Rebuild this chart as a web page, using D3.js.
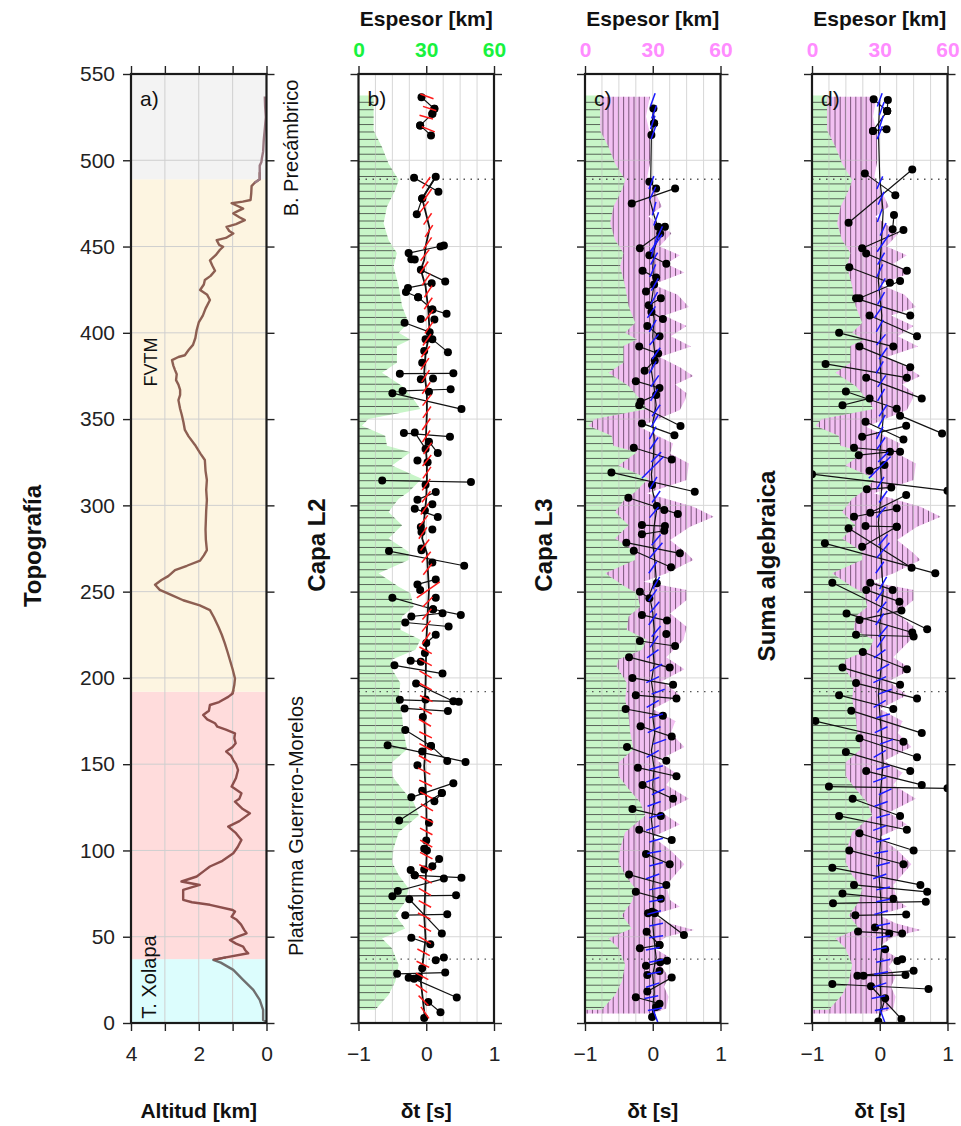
<!DOCTYPE html>
<html>
<head>
<meta charset="utf-8">
<script src="https://d3js.org/d3.v7.min.js"></script>
<style>
  body { margin: 0; background: #fff; }
  svg { font-family: "Liberation Sans", Arial, sans-serif; }
</style>
</head>
<body>
<svg id="chart" width="961" height="1126"></svg>
<script>
// ---------------- data ----------------
var regionNames = ["T. Xolapa", "Plataforma Guerrero-Morelos", "FVTM", "B. Precámbrico"];
var regionBounds = [0, 37, 192, 489, 550];

// topography: [distance, altitude km]
var topo = [[0.8,0.0],[1.8,0.1],[7.6,0.1],[13.4,0.2],[19.2,0.39],[25,0.69],[30.8,0.98],[35,1.35],[36.6,1.57],
  [38,1.2],[40.4,0.54],[42,0.62],[44.3,0.69],[46,0.9],[48.1,1.08],[50,0.85],[52,0.59],[54,0.66],[57,0.75],
  [59.8,0.88],[61.6,1.03],[64.6,0.93],[65.5,1.0],[68.5,1.67],[70,2.2],[71.4,2.46],[74,2.46],[77.2,2.46],
  [80,1.97],[82,2.51],[84.9,2.06],[88,1.85],[90.7,1.67],[94,1.3],[98.4,0.98],[102,0.85],[106.1,0.74],
  [110,0.9],[113.8,1.13],[117,0.8],[121.5,0.49],[124,0.7],[128.3,0.93],[130,0.8],[133.1,0.74],[137,1.03],
  [142,0.9],[146.6,0.84],[150,0.9],[152.4,0.98],[155,1.05],[157.3,1.19],[160,1.0],[162.1,0.91],[165,0.95],
  [167.9,0.93],[170,1.2],[171.7,1.45],[173.7,1.52],[176,1.75],[178.5,1.87],[181,1.7],[184.3,1.67],[186,1.4],
  [189,1.13],[191,1.0],[193,0.98],[196,0.95],[199.7,0.93],[205,1.0],[210.4,1.08],[215,1.15],[220,1.23],
  [225,1.32],[229.7,1.42],[235,1.55],[239.3,1.67],[242,1.97],[245,2.46],[248,2.8],[251,3.15],[254,3.29],
  [256.7,3.1],[259,2.9],[262.5,2.7],[265,2.35],[268,1.96],[271,1.85],[274,1.76],[280,1.79],[286,1.8],
  [291.5,1.79],[297,1.78],[303,1.76],[309,1.78],[314.7,1.76],[320,1.8],[326.3,1.82],[330,1.95],[335,2.11],
  [340,2.3],[343.7,2.41],[348,2.45],[352.4,2.5],[356,2.55],[361,2.6],[364,2.55],[366.9,2.55],[370,2.6],
  [372.6,2.67],[376,2.65],[378.4,2.7],[381,2.75],[384.2,2.79],[386,2.6],[387,2.41],[390,2.3],[393,2.17],
  [397,2.1],[401.6,2.06],[406,2.0],[410,1.88],[414,1.8],[419,1.67],[422,1.75],[424.8,1.96],[428,1.85],
  [430.6,1.82],[433,1.65],[436,1.52],[439,1.6],[442,1.67],[445,1.5],[448,1.38],[449.9,1.28],[451,1.4],
  [453.7,1.47],[455,1.2],[457.6,0.98],[459,1.1],[461.4,1.18],[463,0.9],[465.3,0.64],[467,0.8],[469.2,0.98],
  [470.5,0.85],[472,0.69],[473.5,0.85],[475.1,1.03],[476,0.7],[477,0.47],[481,0.45],[485,0.44],[487,0.35],
  [489,0.2],[493,0.2],[496.9,0.2],[499,0.15],[500.7,0.14],[505,0.1],[512,0.08],[518,0.05],[525,0.02],
  [531,0.04],[537,0.05]];

// thickness of layer L2 [distance, km]
var espesorL2 = [[537.5,6.7],[526.9,6.7],[517.3,6.7],[507.7,10.4],[498.1,13.3],[488.5,17.8],[482.7,16.3],
  [473.1,12.6],[463.5,11.1],[453.8,13.3],[446.2,17.0],[438.5,15.5],[426.9,17.8],[415.4,19.3],[405.8,22.2],
  [400,17.8],[396.2,23.0],[392.3,17.0],[382.7,17.0],[376.9,10.4],[369.2,19.3],[361.5,24.4],[355.8,27.4],
  [350,4.4],[346.2,1.5],[340.4,11.8],[334.6,12.6],[330.8,23.0],[323.1,14.8],[315.4,28.0],[307.7,22.2],
  [303.8,17.8],[296.2,13.3],[288.5,19.3],[280.8,13.3],[273.1,22.2],[268.3,22.2],[260.6,8.9],[252.9,17.8],
  [249,23.0],[241.3,24.4],[235.6,19.3],[227.9,18.5],[222.1,27.4],[216.3,25.2],[210.6,14.8],[206.7,14.0],
  [197.1,18.5],[187.5,17.8],[177.9,19.3],[168.3,20.0],[158.7,21.5],[151,14.8],[143.3,14.8],[135.6,19.3],
  [127.9,24.4],[120.2,26.7],[110.6,17.8],[101,15.5],[93.3,14.8],[85.6,17.8],[77.9,22.2],[70.2,20.7],
  [62.5,16.3],[54.8,20.7],[49,10.4],[43.3,14.8],[33.7,17.8],[24,16.3],[16.3,13.3],[7.7,7.4]];

// thickness of layers L2 + L3 [distance, km]
var espesorL23 = [[536.8,28.7],[525.3,27.0],[515.6,28.7],[500.2,29.0],[490.5,27.6],[484.7,30.0],[473.2,34.0],
  [467.4,28.0],[457.7,38.3],[450,33.0],[445,42],[440,36],[435,44],[428,30],[422,41],[415,46],[410,35],
  [404,45],[398,38],[392,47],[386,33],[380,42],[375,48],[370,40],[365,45],[361,44.3],[355.2,42],[345.6,24],
  [335.9,39],[330.1,37.7],[324.3,46],[314.7,45],[307,27.3],[299.2,48],[293.4,57],[287.6,46.5],[279.9,37.7],
  [272.2,45],[268.3,48],[260.6,36.2],[255.8,26],[251,45],[245.2,45],[237.4,37.7],[229.7,45],[222,43.6],
  [212,36],[205,44],[198,34],[190,42],[182,30],[175,40],[168,38],[160,44],[152,32],[145,40],[138,36],
  [130,46],[122,34],[115,42],[108,30],[100,38],[92,44],[80,36],[71.3,37.6],[67.4,42],[62.6,29.6],[57.8,37],
  [53.9,48.3],[50,36],[44.2,29.6],[38.4,37],[32.6,34],[26.8,37],[21,35],[15.2,37],[8.4,36],[5.5,30]];

// panel b (capa L2): mean curve [distance, dt]
var lineL2 = [[490.4,0.14],[477.9,-0.06],[460.6,0.05],[450,-0.01],[442.3,-0.03],[436.5,-0.08],[426.9,-0.01],
  [413.5,0.03],[400,0.05],[388.5,-0.01],[376.9,-0.03],[365.4,0.01],[353.8,0.01],[334.6,-0.01],[325,0.01],
  [315.4,0.01],[303.8,0.0],[292.3,-0.03],[280.8,-0.06],[272.1,0.01],[251,0.04],[220.2,0.0],[197.1,-0.01],
  [177.9,-0.03],[158.7,-0.01],[149,-0.03],[129.8,0.0],[101,0.01],[81.7,-0.01],[62.5,-0.03],[49,-0.01],
  [31.7,-0.06],[24,-0.08],[3,-0.02]];
// pairs of measurements [dist1, dt1, dist2, dt2]
var pairsL2 = [[536.5,-0.07,529.8,0.12],[529.8,0.12,526.9,0.09],[526.9,0.09,520.2,-0.09],[520.2,-0.09,514.4,0.07],
  [489.8,-0.18,481.7,0.18],[490.4,0.14,477.9,-0.06],[477.9,-0.06,468.7,-0.14],[450.6,0.26,446.2,-0.26],
  [442.7,-0.22,442.5,-0.17],[436.5,-0.08,429.8,0.28],[428.8,0.08,426,-0.27],[423.7,-0.30,420.6,-0.12],
  [420.6,-0.12,413.5,0.09],[413.5,0.09,411,0.30],[405.8,-0.32,400.4,0.05],[396.2,0.09,388.8,0.32],
  [376.3,-0.39,376.5,0.40],[366.3,-0.35,367.3,0.36],[365,-0.50,355.8,0.52],[341.9,-0.33,339.8,0.35],
  [342.3,-0.17,332.7,-0.01],[330.3,0.17,336.9,0.04],[314.4,-0.65,313.5,0.66],[307.7,0.14,303.3,-0.13],
  [298.1,-0.17,293.3,0.17],[273.5,-0.55,265,0.56],[257.1,0.14,254.2,-0.13],[246.5,-0.50,239.8,0.10],
  [239.8,0.10,236.5,0.51],[235.6,-0.22,237.5,0.24],[232.1,-0.31,229.8,0.33],[225,0.14,220.2,0.0],
  [210,-0.23,209.4,-0.08],[207.3,-0.47,202.5,0.24],[196.7,-0.15,186.5,0.40],[187.3,-0.39,186.2,0.48],
  [182.3,-0.32,180.8,0.32],[169.8,-0.31,160.6,0.07],[160.6,0.07,151.9,0.31],[161,-0.57,151.3,0.58],
  [139,0.40,130.8,-0.22],[133.3,0.23,128.5,0.12],[117.3,-0.40,133.3,0.23],[95,0.19,90.8,0.09],
  [88.6,-0.23,85.6,-0.17],[85.6,-0.17,84.2,0.52],[76.5,-0.42,83.7,0.26],[73.5,-0.50,74,0.44],
  [71.7,-0.25,51.9,0.23],[62.5,-0.31,63,0.31],[49.4,-0.22,45.6,0.06],[36.3,0.14,38,0.26],
  [28.5,-0.43,29.2,0.28],[25.6,-0.18,14.8,0.45],[12.1,0.03,6.2,0.21],[26.2,-0.26,26.8,-0.11]];
var dotsL2 = [[382.7,-0.06],[373.1,-0.08],[373.5,0.10],[365.8,0.04],[326,-0.13],[325,0.02],[312,-0.01],
  [300.6,0.09],[297,-0.02],[287.5,-0.08],[286,0.09],[284.6,-0.07],[275,-0.07],[396.2,-0.01],[389.4,-0.03],
  [408,-0.08],[407.7,0.12],[450,0.21],[274,-0.07],[266.9,0.09],[251,-0.09],[246.5,0.14],[214.4,-0.02],
  [187.5,-0.01],[177.3,-0.05],[157.3,-0.06],[149.4,-0.13],[134.6,-0.06],[116,0.04],[105.8,0.0],[101,-0.03],
  [100,0.01],[89,-0.03],[31.7,-0.06],[2.9,-0.03]];
// fast-axis sticks [distance, dt, azimuth deg, relative delay]
var sticksL2 = [[537,0.01,110,1],[530,0.05,108,1],[525,0.0,105,1],[518,0.03,112,1],
  [487,0.0,35,1],[480,0.02,35,1],[473,-0.03,38,1],[466,0.02,35,1],[459,0.04,33,1],[452,0.02,35,1],
  [445,-0.02,38,1],[438,-0.03,35,1],[431,0.0,35,1],[424,0.03,33,1],[417,0.03,35,1],[410,0.04,38,1],
  [403,0.04,35,1],[396,0.01,35,1],[389,-0.01,38,1],[382,-0.02,35,1],[375,-0.01,33,1],[368,0.0,35,1],
  [361,0.01,38,1],[354,0.01,35,1],[347,0.0,35,1],[340,0.0,33,1],[333,0.02,35,1],[326,0.01,38,1],
  [319,0.01,35,1],[312,0.0,35,1],[305,0.0,38,1],[298,-0.02,35,1],[291,-0.04,38,1],[284,-0.05,35,1],
  [277,-0.02,38,1],[270,0.0,40,1],[263,0.02,38,1],[251,0.03,55,2],[244,0.02,45,1],[237,0.01,40,1],
  [230,0.0,38,1],[223,0.0,35,1],
  [216,-0.01,118,1],[209,-0.01,118,1],[202,-0.01,120,1],[195,-0.01,118,1],[188,0.0,116,1],[181,-0.01,118,1],
  [174,-0.02,120,1],[167,-0.01,116,1],[160,-0.01,118,1],[153,-0.02,120,1],[146,-0.03,118,1],[139,-0.01,116,1],
  [132,0.0,118,1],[125,0.01,120,1],[118,0.01,116,1],[111,0.0,118,1],[104,0.0,120,1],[97,0.0,118,1],
  [90,-0.01,116,1],[83,-0.01,118,1],[76,-0.02,120,1],[69,-0.02,118,1],[62,-0.03,116,1],[55,-0.02,118,1],
  [48,-0.02,120,1],[41,-0.04,118,1],[34,-0.05,116,1],[27,-0.06,118,1],[20,-0.07,125,1],[13,-0.04,135,1],
  [6,-0.02,145,1]];

// panel c (capa L3)
var lineL3 = [[530,0.01],[514.6,-0.02],[488,-0.03],[478,-0.05],[468,0.02],[458,0.1],[448,0.02],[438,0.0],
  [428,0.02],[418,-0.02],[408,0.02],[398,0.0],[388,0.03],[378,-0.02],[368,0.02],[358,0.05],[348,0.0],
  [338,0.02],[328,0.01],[318,-0.02],[308,0.0],[298,0.06],[288,0.02],[278,0.0],[268,0.03],[258,0.05],
  [248,-0.05],[238,0.0],[228,0.02],[218,0.0],[208,0.02],[198,-0.02],[188,0.02],[178,0.0],[168,0.03],
  [158,-0.02],[148,0.02],[138,0.0],[128,0.02],[118,-0.02],[108,0.01],[98,0.0],[88,0.02],[78,0.0],
  [68,0.01],[58,0.0],[48,0.02],[38,0.05],[28,0.0],[18,0.02],[8,0.0],[3.5,-0.01]];
var pairsL3 = [[530,0.01,521.4,0.02],[521.4,0.02,514.6,-0.02],
  [487.6,-0.05,483.7,0.05],[475,-0.31,483.7,0.33],[461.5,0.08,461.5,0.18],[457.6,0.11,449,-0.19],
  [445,-0.05,440,0.20],[436,-0.15,432,0.05],[428,0.02,424,-0.10],[420,0.12,416,-0.06],[412,-0.02,408,0.15],
  [404,-0.08,398,0.10],[392,-0.20,388,0.08],[384,0.03,378,-0.12],[372,-0.25,368,0.10],[364,0.05,360,-0.18],
  [358,-0.20,346,0.41],[347.5,-0.16,340.7,0.32],[333.4,-0.28,326.6,0.28],[319.1,-0.61,307.9,0.62],
  [304.4,-0.36,295,0.37],[288.6,-0.16,288,0.18],[283.2,-0.16,285.3,0.17],[278.4,-0.39,272.2,0.40],
  [273.7,-0.28,264.1,0.27],[250,-0.19,246.1,-0.05],[236.5,-0.16,233.2,0.21],[221.4,-0.19,218.5,0.33],
  [212,-0.35,206,0.25],[200,-0.30,196,0.30],[190,-0.25,188,0.35],[182,-0.40,178,0.15],[172,-0.18,166,0.28],
  [160,-0.38,152,0.20],[148,-0.22,143,0.35],[138,-0.15,130,0.30],[124,-0.30,120,0.12],[112,-0.20,106,0.28],
  [98,-0.10,92,0.25],[86,-0.35,80,0.20],[76,-0.25,72,0.12],
  [63.6,0.03,51,0.46],[63.6,-0.07,64.5,-0.01],[52.9,-0.09,45.2,0.10],[43.3,-0.19,45.2,0.10],
  [36.1,0.21,33.2,-0.10],[30.2,0.10,27.8,-0.08],[26.3,0.28,18.2,-0.08],[14.9,-0.25,11.2,0.10],[9.3,0.05,3.5,-0.01]];
var dotsL3 = [[311.8,-0.01],[299.6,0.06],[297.3,0.17],[254.8,0.06],[225.5,0.2],[35.2,0.11]];
var sticksL3 = [[535,0.0,20,1],[528,0.02,20,1],[522,0.0,18,1],[516,0.01,20,1],
  [487,-0.02,20,1],[481,0.0,25,1],[472,0.02,15,1],[466,0.05,20,1],[458,0.1,25,1],[452,0.05,35,1.5],
  [450,0.02,15,1.5],[443,0.02,30,1],[436,0.0,25,1],[428,0.03,30,1],[420,0.02,30,1],[412,-0.02,35,1],
  [404,0.0,30,1],[396,0.02,40,1],[388,0.05,35,1],[380,0.0,30,1],[372,0.03,35,1],[364,0.02,30,1],
  [355,0.05,35,1],[349,0.03,30,1],[342,0.0,28,1],[336,0.02,35,1],[328,0.05,45,1],[322,0.0,45,2.2],
  [313,0.01,30,1],[305,0.05,35,1],[296,0.02,40,1],[280,0.05,40,1],[274,0.05,40,1.4],[264,0.0,35,1],
  [255,0.05,30,1],[248,0.0,35,1],[241,0.03,40,1],[234,0.0,35,1],[227,0.05,40,1],[221,0.02,35,1],
  [214,0.0,55,1],[206,0.05,60,1],[199,0.0,65,1],[192,0.08,70,1],[185,0.0,60,1],[178,0.05,75,1],
  [170,0.02,65,1],[163,0.1,70,1],[156,0.0,60,1],[148,0.05,75,1],[141,0.0,70,1],[134,0.08,65,1],
  [127,0.02,70,1],[120,0.05,75,1],[113,0.0,70,1],[106,0.05,75,1],[99,0.02,80,1],[92,0.05,75,1],
  [85,0.0,70,1],[78,0.05,78,1],[71,0.05,80,1],[64,0.02,75,1],[57,0.05,78,1],[50,0.05,82,1],
  [43,0.0,80,1],[36,0.05,78,1],[29,0.02,80,1],[22,0.0,72,1],[15,-0.02,78,1],[8,0.03,80,1],[3,0.05,160,1.2]];

// panel d (suma algebraica)
var lineSum = [[535,0.0],[517,-0.02],[490,0.0],[470,0.05],[450,0.02],[430,-0.02],[410,0.03],[390,0.0],
  [370,0.02],[350,0.05],[330,0.0],[310,0.03],[290,-0.02],[270,0.02],[250,0.05],[230,0.0],[210,0.03],
  [190,-0.02],[170,0.02],[150,0.05],[130,0.0],[110,0.02],[90,-0.02],[70,0.02],[50,0.04],[30,0.0],[10,0.02],[0.8,-0.02]];
var pairsSum = [[535.3,-0.09,528.5,0.11],[535,0.12,528.5,0.11],[528.5,0.11,517,-0.10],[517,-0.10,518,0.10],
  [492.4,-0.22,479.8,0.23],[494.7,0.48,463.8,-0.46],[468.3,0.21,460,0.19],[459.6,0.35,449,-0.26],
  [446,-0.20,436,0.40],[438,-0.45,429,0.15],[430,0.30,420,-0.30],[420,-0.35,410,0.45],[410,-0.15,398,0.55],
  [400,-0.60,392,0.20],[392,-0.30,380,0.45],[382,-0.80,374,0.40],[374,-0.20,362,0.62],[366,-0.50,356,0.25],
  [358,-0.55,362,-0.15],[341.7,0.92,352,0.30],[348.5,-0.21,338.2,0.35],[339.8,-0.26,346.1,0.39],
  [333.4,-0.38,331,0.30],[329.1,-0.31,331,0.15],[320,-0.15,323.4,0.07],[318.1,-1.0,308.5,1.0],
  [309.3,-0.19,310.4,0.17],[306,0.39,295.7,-0.14],[298.3,0.25,293.4,-0.38],[288,-0.21,287.6,0.25],
  [286.7,-0.46,263.9,0.47],[276,-0.26,287.6,0.25],[278,-0.81,260.6,0.82],[255.2,-0.70,228.2,0.70],
  [255.2,-0.14,251,0.19],[251,-0.2,244.2,0.29],[237.4,-0.49,226.3,0.48],[233.6,-0.30,239,0.32],
  [225,-0.35,224,0.50],
  [215,-0.25,205,0.40],[206,-0.55,196,0.30],[197,-0.35,188,0.55],[190,-0.60,182,0.20],[181,-0.42,168,0.62],
  [175,-0.95,163,0.35],[165,-0.30,154,0.55],[157,-0.50,146,0.45],[146,-0.20,138,0.62],[137,-0.75,136,1.0],
  [130,-0.40,120,0.30],[120,-0.60,112,0.40],[110,-0.30,100,0.50],[100,-0.45,92,0.35],[90,-0.70,80,0.60],
  [80,-0.38,76,0.70],[75,-0.55,72,0.20],
  [69.4,-0.69,70.3,0.68],[62.4,-0.36,62.9,0.39],[53,-0.32,51.9,0.14],[55.3,-0.07,51.9,0.33],
  [36,0.26,37,0.33],[30.3,0.50,27.4,-0.33],[27.4,-0.24,27.8,0.38],[22.6,-0.70,19.7,0.72],
  [21.3,-0.13,2.3,0.32],[14.4,0.08,0.8,-0.02]];
var dotsSum = [[42.8,0.08]];
var sticksSum = [[535,0.0,20,1],[530,0.03,20,1],[522,0.02,18,1],[516,0.0,22,1],
  [487,0.0,25,1],[478,0.02,25,1],[468,0.0,20,1],[460,0.05,25,1],[452,0.05,35,1.5],
  [443,0.02,30,1],[436,0.0,25,1],[428,0.03,30,1],[420,0.02,30,1],[412,-0.02,35,1],
  [404,0.0,30,1],[396,0.02,40,1],[388,0.05,35,1],[380,0.0,30,1],[372,0.03,35,1],[364,0.02,30,1],
  [355,0.05,35,1],[349,0.03,30,1],[342,0.0,28,1],[336,0.02,35,1],[328,0.05,45,1],[322,0.0,45,2.2],
  [313,0.01,30,1],[305,0.05,35,1],[296,0.02,40,1],[280,0.05,40,1],[274,0.05,40,1.4],[264,0.0,35,1],
  [255,0.05,30,1],[248,0.0,35,1],[241,0.03,40,1],[234,0.0,35,1],[227,0.05,40,1],[221,0.02,35,1],
  [214,0.0,55,1],[206,0.05,60,1],[199,0.0,65,1],[192,0.08,70,1],[185,0.0,60,1],[178,0.05,75,1],
  [170,0.02,65,1],[163,0.1,70,1],[156,0.0,60,1],[148,0.05,75,1],[141,0.0,70,1],[134,0.08,65,1],
  [127,0.02,70,1],[120,0.05,75,1],[113,0.0,70,1],[106,0.05,75,1],[99,0.02,80,1],[92,0.05,75,1],
  [85,0.0,70,1],[78,0.05,78,1],[71,0.05,80,1],[64,0.02,75,1],[57,0.05,78,1],[50,0.05,82,1],
  [43,0.0,80,1],[36,0.05,78,1],[29,0.02,80,1],[22,0.0,72,1],[15,-0.02,78,1],[8,0.03,80,1],[3,0.05,160,1.2]];

var espesorTicks = [0, 30, 60];
var dtTicks = [-1, 0, 1];
var altTicks = [4, 2, 0];

// ---------------- drawing ----------------
var svg = d3.select("#chart");
var defs = svg.append("defs");
var TOP = 74, BOT = 1023, PW = 135.5;
var y = d3.scaleLinear().domain([0, 550]).range([BOT, TOP]);
var distTicks = d3.range(0, 551, 50);
var intFmt = d3.format("d");

function styleAxis(g, size, color) {
  g.select(".domain").remove();
  g.selectAll(".tick line").attr("stroke", "#222").attr("stroke-width", 1.4);
  g.selectAll(".tick text").attr("font-size", size).attr("fill", color || "#222")
    .style("font-family", "'Liberation Sans', Arial, sans-serif");
}

function vText(x, yc, txt, size, weight) {
  svg.append("text").attr("transform", "translate(" + x + "," + yc + ") rotate(-90)")
    .attr("text-anchor", "middle").attr("font-size", size).attr("font-weight", weight || "normal")
    .attr("fill", "#111").text(txt);
}

// ----- panel a: topography
var xA0 = 131;
var xAlt = d3.scaleLinear().domain([4, 0]).range([xA0, xA0 + PW]);
var regionFill = ["#dcfdfd", "#ffdcdc", "#fdf5e1", "#f3f3f3"];
var regionLine = ["#6f6f6f", "#8c4f4c", "#8d5f52", "#9b7a82"];

regionNames.forEach(function(name, i) {
  svg.append("rect").attr("x", xA0).attr("width", PW)
    .attr("y", y(regionBounds[i + 1])).attr("height", y(regionBounds[i]) - y(regionBounds[i + 1]))
    .attr("fill", regionFill[i]);
});

var gridA = svg.append("g").attr("stroke", "#cfcfcf").attr("stroke-width", 1);
[3, 2, 1].forEach(function(v) {
  gridA.append("line").attr("x1", xAlt(v)).attr("x2", xAlt(v)).attr("y1", TOP).attr("y2", BOT);
});
distTicks.forEach(function(v) {
  gridA.append("line").attr("x1", xA0).attr("x2", xA0 + PW).attr("y1", y(v)).attr("y2", y(v));
});

var topoLine = d3.line().x(function(d) { return xAlt(d[1]); }).y(function(d) { return y(d[0]); });
regionNames.forEach(function(name, i) {
  var lo = regionBounds[i], hi = regionBounds[i + 1];
  var idx = [];
  topo.forEach(function(d, j) { if (d[0] >= lo && d[0] <= hi) idx.push(j); });
  if (!idx.length) return;
  var s = Math.max(0, idx[0] - 1), e = Math.min(topo.length - 1, idx[idx.length - 1] + 1);
  if (i === 0) s = idx[0];
  svg.append("path").datum(topo.slice(s, e + 1)).attr("d", topoLine)
    .attr("fill", "none").attr("stroke", regionLine[i]).attr("stroke-width", 2.4)
    .attr("stroke-linejoin", "round");
});

svg.append("rect").attr("x", xA0).attr("y", TOP).attr("width", PW).attr("height", BOT - TOP)
  .attr("fill", "none").attr("stroke", "#1a1a1a").attr("stroke-width", 2.2);

styleAxis(svg.append("g").attr("transform", "translate(" + xA0 + ",0)")
  .call(d3.axisLeft(y).tickValues(distTicks).tickSize(8).tickPadding(8)), 21);
styleAxis(svg.append("g").attr("transform", "translate(" + (xA0 + PW) + ",0)")
  .call(d3.axisRight(y).tickValues(distTicks).tickSize(8).tickFormat("")), 21);
styleAxis(svg.append("g").attr("transform", "translate(0," + TOP + ")")
  .call(d3.axisTop(xAlt).tickValues([4, 3, 2, 1, 0]).tickSize(8).tickFormat("")), 21);
var axA = svg.append("g").attr("transform", "translate(0," + BOT + ")")
  .call(d3.axisBottom(xAlt).tickValues([4, 3, 2, 1, 0]).tickSize(8).tickPadding(15)
    .tickFormat(function(d) { return altTicks.indexOf(d) >= 0 ? intFmt(d) : ""; }));
styleAxis(axA, 21);

svg.append("text").attr("x", xA0 + 9).attr("y", 106).attr("font-size", 21).attr("fill", "#111").text("a)");
vText(298, 148, regionNames[3], 20);
vText(157, 362, regionNames[2], 18);
vText(303, 826, regionNames[1], 20);
vText(156, 977, regionNames[0], 20);
vText(41, 546, "Topografía", 24, "bold");
svg.append("text").attr("x", xA0 + PW / 2).attr("y", 1118).attr("text-anchor", "middle")
  .attr("font-size", 21).attr("font-weight", "bold").attr("fill", "#111").text("Altitud [km]");

// ----- panels b, c, d
var panels = [
  { x0: 358.5, letter: "b)", title: "Capa L2", titleX: 325, titleY: 545, line: lineL2, pairs: pairsL2,
    dots: dotsL2, sticks: sticksL2, stick: "#ff1a1a", pink: false, tickColor: "#18f23e" },
  { x0: 585, letter: "c)", title: "Capa L3", titleX: 552, titleY: 545, line: lineL3, pairs: pairsL3,
    dots: dotsL3, sticks: sticksL3, stick: "#1a1aff", pink: true, tickColor: "#ff8cff" },
  { x0: 812, letter: "d)", title: "Suma algebraica", titleX: 775, titleY: 566, line: lineSum, pairs: pairsSum,
    dots: dotsSum, sticks: sticksSum, stick: "#1a1aff", pink: true, tickColor: "#ff8cff" }
];

var stickLen = d3.scaleLinear().domain([0, 1]).range([0, 14]);

panels.forEach(function(p, k) {
  var xDt = d3.scaleLinear().domain([-1, 1]).range([p.x0, p.x0 + PW]);
  var xKm = d3.scaleLinear().domain([0, 60]).range([p.x0, p.x0 + PW]);
  var g = svg.append("g");

  defs.append("clipPath").attr("id", "panel" + k).append("rect")
    .attr("x", p.x0).attr("y", TOP).attr("width", PW).attr("height", BOT - TOP);
  g.attr("clip-path", "url(#panel" + k + ")");

  var area = d3.area().y(function(d) { return y(d[0]); }).x0(xKm(0)).x1(function(d) { return xKm(d[1]); });

  if (p.pink) {
    var pinkD = area(espesorL23);
    g.append("path").attr("d", pinkD).attr("fill", "#f2c0f2");
    defs.append("clipPath").attr("id", "pink" + k).append("path").attr("d", pinkD);
    var vh = g.append("g").attr("clip-path", "url(#pink" + k + ")")
      .attr("stroke", "#4a2a4a").attr("stroke-width", 1).attr("opacity", 0.7);
    d3.range(1, 60, 2.3).forEach(function(v) {
      vh.append("line").attr("x1", xKm(v)).attr("x2", xKm(v)).attr("y1", TOP).attr("y2", BOT);
    });
  }

  var greenD = area(espesorL2);
  g.append("path").attr("d", greenD).attr("fill", "#c8f6c8");
  defs.append("clipPath").attr("id", "green" + k).append("path").attr("d", greenD);
  var hh = g.append("g").attr("clip-path", "url(#green" + k + ")")
    .attr("stroke", "#333").attr("stroke-width", 1).attr("opacity", 0.75);
  d3.range(9, 537, 4.3).forEach(function(v) {
    hh.append("line").attr("x1", p.x0).attr("x2", p.x0 + PW).attr("y1", y(v)).attr("y2", y(v));
  });

  var grid = g.append("g").attr("stroke", "#bdbdbd").attr("stroke-width", 1).attr("opacity", 0.6);
  d3.range(-0.75, 1, 0.25).forEach(function(v) {
    grid.append("line").attr("x1", xDt(v)).attr("x2", xDt(v)).attr("y1", TOP).attr("y2", BOT);
  });
  distTicks.forEach(function(v) {
    grid.append("line").attr("x1", p.x0).attr("x2", p.x0 + PW).attr("y1", y(v)).attr("y2", y(v));
  });

  [regionBounds[1], regionBounds[2], regionBounds[3]].forEach(function(v) {
    g.append("line").attr("x1", p.x0).attr("x2", p.x0 + PW).attr("y1", y(v)).attr("y2", y(v))
      .attr("stroke", "#555").attr("stroke-width", 1.3).attr("stroke-dasharray", "1.5,5.5");
  });

  var ln = d3.line().x(function(d) { return xDt(d[1]); }).y(function(d) { return y(d[0]); });
  g.append("path").datum(p.line).attr("d", ln).attr("fill", "none")
    .attr("stroke", "#111").attr("stroke-width", k === 0 ? 1.8 : 1.2);

  g.selectAll(".pair").data(p.pairs).enter().append("line")
    .attr("x1", function(d) { return xDt(d[1]); }).attr("y1", function(d) { return y(d[0]); })
    .attr("x2", function(d) { return xDt(d[3]); }).attr("y2", function(d) { return y(d[2]); })
    .attr("stroke", "#111").attr("stroke-width", 1.2);

  var pts = [];
  p.pairs.forEach(function(d) { pts.push([d[0], d[1]]); pts.push([d[2], d[3]]); });
  p.dots.forEach(function(d) { pts.push(d); });
  g.selectAll(".dot").data(pts).enter().append("circle")
    .attr("cx", function(d) { return xDt(d[1]); }).attr("cy", function(d) { return y(d[0]); })
    .attr("r", 4).attr("fill", "#000");

  g.selectAll(".stick").data(p.sticks).enter().append("line")
    .each(function(d) {
      var a = d[2] * Math.PI / 180, L = stickLen(d[3]) / 2;
      var cx = xDt(d[1]), cy = y(d[0]);
      d3.select(this).attr("x1", cx - Math.sin(a) * L).attr("y1", cy + Math.cos(a) * L)
        .attr("x2", cx + Math.sin(a) * L).attr("y2", cy - Math.cos(a) * L);
    })
    .attr("stroke", p.stick).attr("stroke-width", 1.5);

  svg.append("rect").attr("x", p.x0).attr("y", TOP).attr("width", PW).attr("height", BOT - TOP)
    .attr("fill", "none").attr("stroke", "#1a1a1a").attr("stroke-width", 2.2);

  styleAxis(svg.append("g").attr("transform", "translate(" + p.x0 + ",0)")
    .call(d3.axisLeft(y).tickValues(distTicks).tickSize(8).tickFormat("")), 21);
  styleAxis(svg.append("g").attr("transform", "translate(" + (p.x0 + PW) + ",0)")
    .call(d3.axisRight(y).tickValues(distTicks).tickSize(8).tickFormat("")), 21);
  var axT = svg.append("g").attr("transform", "translate(0," + TOP + ")")
    .call(d3.axisTop(xKm).tickValues(espesorTicks).tickSize(8).tickPadding(9).tickFormat(intFmt));
  styleAxis(axT, 21, p.tickColor);
  axT.selectAll(".tick text").attr("font-weight", "bold");
  styleAxis(svg.append("g").attr("transform", "translate(0," + BOT + ")")
    .call(d3.axisBottom(xDt).tickValues(dtTicks).tickSize(8).tickPadding(15).tickFormat(intFmt)), 21);

  svg.append("text").attr("x", p.x0 + 9).attr("y", 106).attr("font-size", 21).attr("fill", "#111").text(p.letter);
  svg.append("text").attr("x", p.x0 + PW / 2).attr("y", 26).attr("text-anchor", "middle")
    .attr("font-size", 21).attr("font-weight", "bold").attr("fill", "#111").text("Espesor [km]");
  svg.append("text").attr("x", p.x0 + PW / 2).attr("y", 1118).attr("text-anchor", "middle")
    .attr("font-size", 21).attr("font-weight", "bold").attr("fill", "#111").text("δt [s]");
  vText(p.titleX, p.titleY, p.title, 24, "bold");
});
</script>
</body>
</html>
